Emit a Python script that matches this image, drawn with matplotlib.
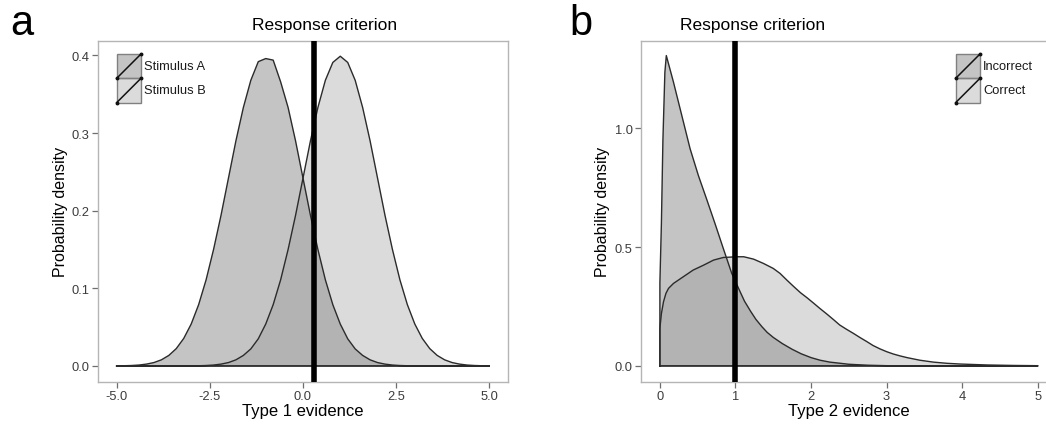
import matplotlib
matplotlib.use("Agg")
import matplotlib.pyplot as plt
from matplotlib.patches import Rectangle
from matplotlib.lines import Line2D

plt.rcParams['font.family'] = ['Liberation Sans', 'DejaVu Sans']

# ---------------- data ----------------
evidence1 = [-5.0, -4.8, -4.6, -4.4, -4.2, -4.0, -3.8, -3.6, -3.4, -3.2,
             -3.0, -2.8, -2.6, -2.4, -2.2, -2.0, -1.8, -1.6, -1.4, -1.2,
             -1.0, -0.8, -0.6, -0.4, -0.2, 0.0, 0.2, 0.4, 0.6, 0.8,
             1.0, 1.2, 1.4, 1.6, 1.8, 2.0, 2.2, 2.4, 2.6, 2.8,
             3.0, 3.2, 3.4, 3.6, 3.8, 4.0, 4.2, 4.4, 4.6, 4.8, 5.0]
stim_a = [0.0001, 0.0003, 0.0006, 0.0012, 0.0024, 0.0044, 0.0079, 0.0136, 0.0224, 0.0355,
          0.054, 0.079, 0.111, 0.150, 0.194, 0.242, 0.290, 0.333, 0.368, 0.392,
          0.396, 0.394, 0.366, 0.333, 0.290, 0.242, 0.194, 0.150, 0.111, 0.079,
          0.054, 0.035, 0.022, 0.0136, 0.0079, 0.0044, 0.0024, 0.0012, 0.0006, 0.0003,
          0.0001, 0.0, 0.0, 0.0, 0.0, 0.0, 0.0, 0.0, 0.0, 0.0, 0.0]
stim_b = [0.0, 0.0, 0.0, 0.0, 0.0, 0.0, 0.0, 0.0, 0.0, 0.0,
          0.0001, 0.0003, 0.0006, 0.0012, 0.0024, 0.0044, 0.0079, 0.0136, 0.022, 0.035,
          0.054, 0.079, 0.111, 0.150, 0.194, 0.242, 0.290, 0.333, 0.368, 0.391,
          0.399, 0.391, 0.368, 0.333, 0.290, 0.242, 0.194, 0.150, 0.111, 0.079,
          0.054, 0.0355, 0.0224, 0.0136, 0.0079, 0.0044, 0.0024, 0.0012, 0.0006, 0.0003, 0.0001]
criterion1 = 0.3

incorrect_x = [0.0, 0.02, 0.04, 0.066, 0.085, 0.18, 0.29, 0.40, 0.51, 0.62, 0.73, 0.84,
               0.95, 1.05, 1.12, 1.2, 1.27, 1.35, 1.42, 1.5, 1.62, 1.75, 1.87, 2.0, 2.12,
               2.25, 2.5, 2.75, 3.0, 3.5, 4.0, 4.5, 5.0]
incorrect_y = [0.35, 0.6, 0.95, 1.235, 1.305, 1.193, 1.053, 0.913, 0.80, 0.70, 0.598, 0.493,
               0.39, 0.32, 0.272, 0.23, 0.196, 0.165, 0.141, 0.12, 0.094, 0.07, 0.051,
               0.035, 0.024, 0.016, 0.007, 0.003, 0.001, 0.0, 0.0, 0.0, 0.0]
correct_x = [0.0, 0.02, 0.048, 0.08, 0.114, 0.18, 0.31, 0.44, 0.58, 0.71, 0.84, 1.02, 1.11,
             1.24, 1.37, 1.50, 1.59, 1.68, 1.77, 1.86, 1.95, 2.03, 2.12, 2.21, 2.30, 2.38,
             2.47, 2.56, 2.65, 2.74, 2.82, 2.91, 3.0, 3.09, 3.18, 3.27, 3.44, 3.62, 3.80,
             3.97, 4.33, 4.68, 5.0]
correct_y = [0.158, 0.22, 0.27, 0.305, 0.326, 0.347, 0.375, 0.403, 0.424, 0.445, 0.456,
             0.459, 0.459, 0.449, 0.431, 0.41, 0.389, 0.361, 0.334, 0.308, 0.286, 0.265,
             0.241, 0.218, 0.194, 0.172, 0.154, 0.137, 0.119, 0.102, 0.086, 0.072, 0.060,
             0.050, 0.042, 0.035, 0.024, 0.016, 0.011, 0.008, 0.004, 0.002, 0.001]
criterion2 = 1.0

labels1 = ["Stimulus A", "Stimulus B"]
labels2 = ["Incorrect", "Correct"]
xticks1 = [-5.0, -2.5, 0.0, 2.5, 5.0]
yticks1 = [0.0, 0.1, 0.2, 0.3, 0.4]
xticks2 = [0, 1, 2, 3, 4, 5]
yticks2 = [0.0, 0.5, 1.0]

# ---------------- style ----------------
W, H = 1046, 427
fig = plt.figure(figsize=(W / 100, H / 100), dpi=100)

dark_fill = '#c4c4c4'
light_rgb = (146 / 255,) * 3
light_alpha = 0.322
edge = '#2b2b2b'
border = '#b5b5b5'
tickc = '#3c3c3c'


def fx(px):
    return px / W


def fy(py):
    return 1 - py / H


def density(ax, x, y, face, alpha=1.0):
    xs = [x[0]] + list(x) + [x[-1]]
    ys = [0.0] + list(y) + [0.0]
    ax.fill(xs, ys, facecolor=face, alpha=alpha, edgecolor='none', zorder=2)
    ax.plot(xs + [xs[0]], ys + [ys[0]], color=edge, lw=1.0, zorder=3,
            solid_joinstyle='round')


def style(ax):
    for s in ax.spines.values():
        s.set_color(border)
        s.set_linewidth(1.0)
    ax.tick_params(direction='out', length=4, width=0.9, color='#6e6e6e',
                   labelcolor=tickc, labelsize=9.3, pad=2)


def legend(px_left, py_top, labels):
    size = 24.3
    faces = [(dark_fill, 1.0), (light_rgb, light_alpha)]
    for i, (lab, (fc, al)) in enumerate(zip(labels, faces)):
        y0 = py_top + i * size
        fig.patches.append(Rectangle((fx(px_left), fy(y0 + size)), size / W, size / H,
                                     transform=fig.transFigure, facecolor='white',
                                     edgecolor='none', zorder=5))
        fig.patches.append(Rectangle((fx(px_left), fy(y0 + size)), size / W, size / H,
                                     transform=fig.transFigure, facecolor=fc, alpha=al,
                                     edgecolor='none', zorder=6))
        fig.patches.append(Rectangle((fx(px_left), fy(y0 + size)), size / W, size / H,
                                     transform=fig.transFigure, facecolor='none',
                                     edgecolor='#808080', lw=1.0, zorder=7))
        fig.lines.append(Line2D([fx(px_left), fx(px_left + size)],
                                [fy(y0 + size), fy(y0)], transform=fig.transFigure,
                                color='#111111', lw=1.1, zorder=8,
                                marker='o', markersize=1.8))
        fig.text(fx(px_left + size + 3), fy(y0 + size / 2), lab, fontsize=9.3,
                 color='#1a1a1a', va='center', ha='left')


# ---------------- panel a ----------------
ax1 = fig.add_axes([fx(98), fy(382.5), 410 / W, 340.8 / H])
density(ax1, evidence1, stim_a, dark_fill)
density(ax1, evidence1, stim_b, light_rgb, light_alpha)
ax1.axvline(criterion1, color='black', lw=4.0, zorder=4)
ax1.set_xlim(-5.5, 5.5)
ax1.set_ylim(-0.02, 0.419)
ax1.set_xticks(xticks1)
ax1.set_xticklabels([f"{v:.1f}" for v in xticks1])
ax1.set_yticks(yticks1)
ax1.set_yticklabels([f"{v:.1f}" for v in yticks1])
style(ax1)
ax1.set_xlabel("Type 1 evidence", fontsize=12, labelpad=1)
ax1.set_ylabel("Probability density", fontsize=11.5, labelpad=3)

# ---------------- panel b ----------------
ax2 = fig.add_axes([fx(641), fy(382.5), 415.6 / W, 340.8 / H])
density(ax2, incorrect_x, incorrect_y, dark_fill)
density(ax2, correct_x, correct_y, light_rgb, light_alpha)
ax2.axvline(criterion2, color='black', lw=4.0, zorder=4)
ax2.set_xlim(-0.25, 5.25)
ax2.set_ylim(-0.0655, 1.3675)
ax2.set_xticks(xticks2)
ax2.set_xticklabels([str(v) for v in xticks2])
ax2.set_yticks(yticks2)
ax2.set_yticklabels([f"{v:.1f}" for v in yticks2])
style(ax2)
ax2.spines['right'].set_visible(False)
ax2.set_xlabel("Type 2 evidence", fontsize=12, labelpad=1)
ax2.set_ylabel("Probability density", fontsize=11.5, labelpad=3)

# titles and panel letters
fig.text(fx(325), fy(25.5), "Response criterion", fontsize=12.5, ha='center', va='center')
fig.text(fx(753), fy(25.5), "Response criterion", fontsize=12.5, ha='center', va='center')
fig.text(fx(10), fy(24), "a", fontsize=30, ha='left', va='center')
fig.text(fx(569), fy(24), "b", fontsize=30, ha='left', va='center')

legend(116.7, 55, labels1)
legend(955.7, 55, labels2)

fig.savefig("out.png", dpi=100, facecolor='white')
